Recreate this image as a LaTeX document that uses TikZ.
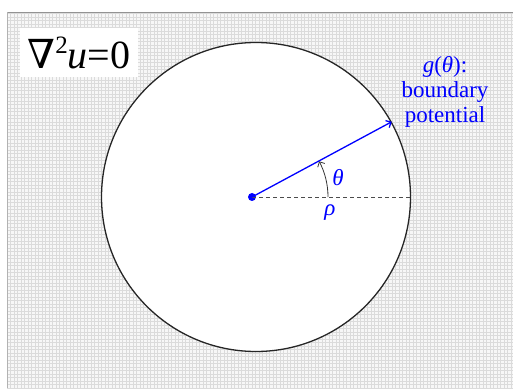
\documentclass[tikz,border=0pt]{standalone}
\usepackage{fontspec}
\setmainfont{Liberation Serif}
\newfontfamily\nablafont{DejaVu Serif}
\usepackage{tikz}
\usetikzlibrary{positioning, arrows, arrows.meta}
\tikzset{
	bluetext/.style={font=\fontsize{23}{25}\selectfont, text=blue}
}
\tikzset{
	bigtext/.style={font=\fontsize{40}{44}\selectfont}
}

\begin{document}
\begin{tikzpicture}[>={Straight Barb[length=4pt,width=8pt]}, x=1pt, y=1pt]
      \useasboundingbox (0,0) rectangle (513,388);
      % grid paper behind everything
      \fill[gray!6] (7,0) rectangle (513,376);
      \draw[gray!28, line width=0.3pt, step=3.5pt] (7,0) grid (513,376);
      \draw[gray!85, line width=0.8pt] (7,376) -- (513,376);
      \draw[gray!60, line width=0.6pt] (7,0) -- (7,376);
      % the disk, its centre and the radius
      \node[circle, draw=black!85, fill=white, line width=1.3pt, minimum size=309pt, inner sep=0pt] (disk) at (256,191) {};
      \node[circle, fill=blue, inner sep=0pt, minimum size=8pt] (ctr) at (252,191) {};
      \draw[black!70, line width=0.9pt, dash pattern=on 4pt off 3pt] (ctr.center) -- (ctr -| disk.east);
      \draw[->, blue, line width=1.3pt] (ctr.center) -- (disk.29);
      \draw[->, black!80, line width=0.8pt] ([xshift=76pt]ctr.center) arc[start angle=0, end angle=28, radius=76pt];
      \node[bluetext] (th) at (338,210) {\textit{θ}};
      \node[bluetext] (rh) at (330,175) {\textit{ρ}};
      \node[bluetext, align=center] (gbnd) at (445,296) {\textit{g}(\textit{θ}):\\boundary\\potential};
      % Laplace equation box
      \node[bigtext, fill=white, minimum width=118pt, minimum height=49pt, inner sep=0pt] (lapl) at (79,335.5) {{\nablafont\fontsize{40}{44}\selectfont ∇}\raisebox{15pt}{\fontsize{25}{25}\selectfont 2}\textit{u}=0};
\end{tikzpicture}
\end{document}
